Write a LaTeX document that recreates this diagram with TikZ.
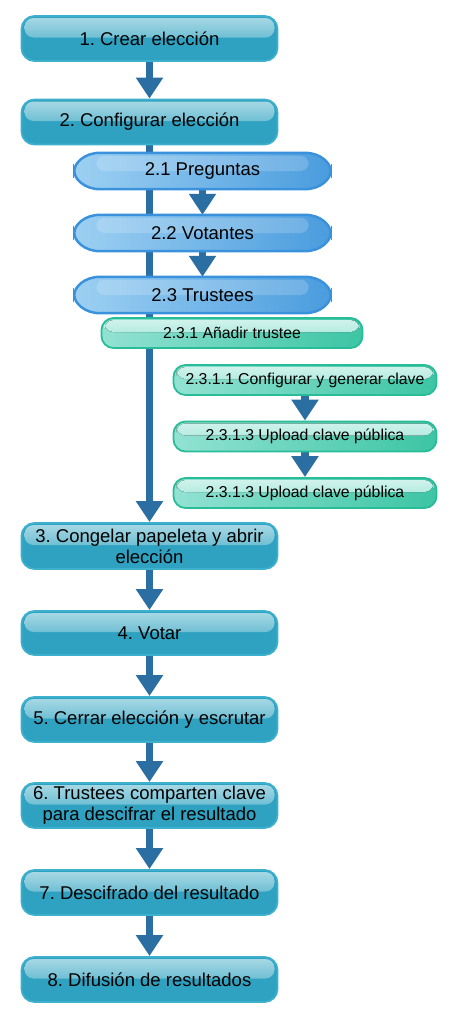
\documentclass[tikz,border=0pt]{standalone}
\usepackage{fontspec}
\setmainfont{Liberation Sans}
\usetikzlibrary{arrows.meta,backgrounds}
\frenchspacing

\definecolor{pasoazul}{HTML}{2EA2C0}
\definecolor{pasoborde}{HTML}{3DB0CE}
\definecolor{subclaro}{HTML}{9DD0F2}
\definecolor{suboscuro}{HTML}{4A9CDE}
\definecolor{subborde}{HTML}{3A92DC}
\definecolor{verdeclaro}{HTML}{92E2D2}
\definecolor{verde}{HTML}{3CC5A4}
\definecolor{verdeborde}{HTML}{28BD98}
\definecolor{flechaazul}{HTML}{2A6EA2}

\tikzset{
    brillo/.style={path picture={\fill[top color=white!60!#1, bottom color=#1, rounded corners=9pt]
        ([shift={(3pt,-2pt)}]path picture bounding box.north west) rectangle
        ([shift={(-3pt,1pt)}]path picture bounding box.east);}},
    paso/.style={draw=pasoborde, line width=1.8pt, fill=pasoazul, rounded corners=13pt, brillo=pasoazul,
        minimum width=256pt, minimum height=45pt, inner sep=1pt, align=center,
        font=\fontsize{18.5}{21}\selectfont},
    subpaso/.style={minimum width=256pt, minimum height=36pt, inner sep=0pt,
        font=\fontsize{18.5}{21}\selectfont},
    trustee/.style={draw=verdeborde, line width=1.8pt, left color=verdeclaro, right color=verde,
        rounded corners=12pt, brillo=verdeclaro, minimum width=261pt, minimum height=30pt, inner sep=0pt,
        font=\fontsize{15.8}{18}\selectfont},
    flecha/.style={draw=flechaazul, line width=7.5pt, -{Triangle[width=26pt,length=21pt]}}
}

\begin{document}
\begin{tikzpicture}[x=1pt,y=-1pt]
\useasboundingbox (0,0) rectangle (450,1018);

\node[paso] (n1) at (149.5,38.5) {1. Crear elección};
\node[paso] (n2) at (149.5,122) {2. Configurar elección};
\node[subpaso] (n21) at (202.5,171) {2.1 Preguntas};
\node[subpaso] (n22) at (202.5,233) {2.2 Votantes};
\node[subpaso] (n23) at (202.5,295) {2.3 Trustees};
\node[trustee] (n231) at (232,333) {2.3.1 Añadir trustee};
\node[trustee, minimum width=263pt] (n2311) at (305,380) {2.3.1.1 Configurar y generar clave};
\node[trustee, minimum width=263pt] (n2312) at (305,436.5) {2.3.1.3 Upload clave pública};
\node[trustee, minimum width=263pt] (n2313) at (305,493) {2.3.1.3 Upload clave pública};
\node[paso, minimum height=46pt] (n3) at (149.5,546) {3. Congelar papeleta y abrir\\elección};
\node[paso, minimum height=44pt] (n4) at (149.5,633) {4. Votar};
\node[paso] (n5) at (149.5,719.5) {5. Cerrar elección y escrutar};
\node[paso] (n6) at (149.5,805.5) {6. Trustees comparten clave\\para descifrar el resultado};
\node[paso] (n7) at (149.5,892.5) {7. Descifrado del resultado};
\node[paso] (n8) at (149.5,979.5) {8. Difusión de resultados};

\begin{scope}[on background layer]
    % flechas
    \draw[flecha] (n1) -- (n2);
    \draw[flecha] (n2) -- (n3);
    \draw[flecha] (n21) -- (n22);
    \draw[flecha] (n22) -- (n23);
    \draw[flecha] (n2311) -- (n2312);
    \draw[flecha] (n2312) -- (n2313);
    \foreach \a/\b in {n3/n4,n4/n5,n5/n6,n6/n7,n7/n8}
        \draw[flecha] (\a) -- (\b);
    % contornos de 2.1 a 2.3
    \foreach \n in {n21,n22,n23}{
        \path[draw=subborde, line width=2.5pt, left color=subclaro, right color=suboscuro]
            ([xshift=26pt]\n.north west) -- ([xshift=-26pt]\n.north east)
            .. controls ([xshift=-10pt]\n.north east) and ([yshift=8pt]\n.east) .. (\n.east)
            .. controls ([yshift=-8pt]\n.east) and ([xshift=-10pt]\n.south east) .. ([xshift=-26pt]\n.south east)
            -- ([xshift=26pt]\n.south west)
            .. controls ([xshift=10pt]\n.south west) and ([yshift=-8pt]\n.west) .. (\n.west)
            .. controls ([yshift=8pt]\n.west) and ([xshift=10pt]\n.north west) .. cycle;
        \fill[white, fill opacity=0.18, rounded corners=8pt]
            ([shift={(22pt,-3pt)}]\n.north west) rectangle ([xshift=-22pt]\n.east);
        \draw[subborde, line width=1pt] ([shift={(-1pt,7pt)}]\n.west) -- ([shift={(-1pt,-7pt)}]\n.west);
        \draw[subborde, line width=1pt] ([shift={(1pt,7pt)}]\n.east) -- ([shift={(1pt,-7pt)}]\n.east);
    }
\end{scope}
\end{tikzpicture}
\end{document}
